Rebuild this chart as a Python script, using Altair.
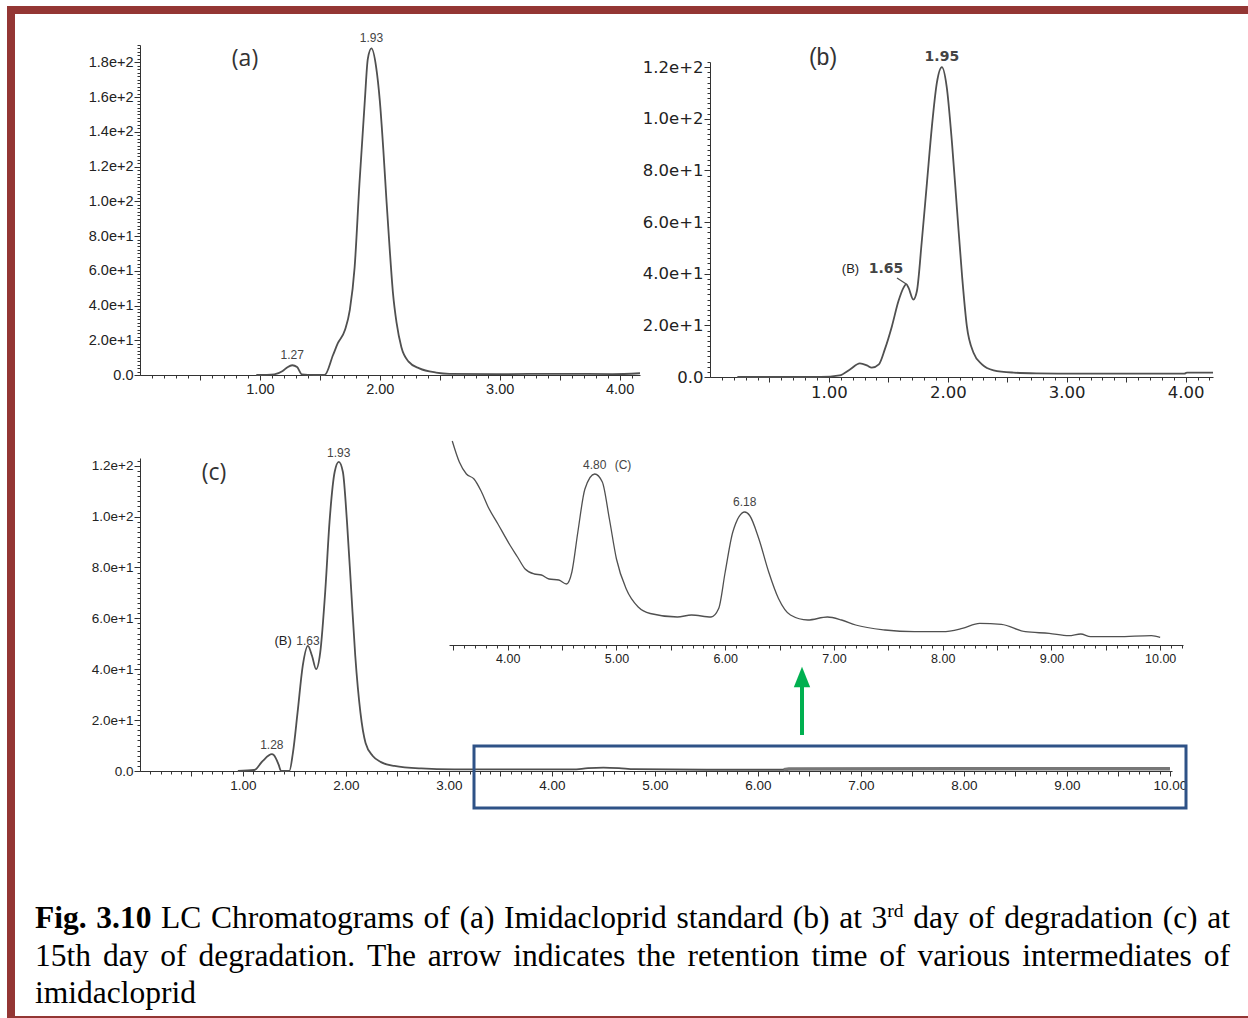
import altair as alt
import pandas as pd

W, H = 1248, 1018

# ---------------------------------------------------------------- traces
# (a) imidacloprid standard: retention time (min) / response
time_a = [0.97, 1.12, 1.19, 1.23, 1.27, 1.31, 1.35, 1.45, 1.54, 1.61, 1.65, 1.71,
          1.75, 1.79, 1.83, 1.875, 1.90, 1.93, 1.97, 2.00, 2.03, 2.056, 2.083, 2.11,
          2.14, 2.18, 2.24, 2.33, 2.47, 2.58, 2.97, 3.53, 3.94, 4.17]
sig_a = [0, 0.4, 2.3, 4.5, 5.6, 4.6, 0.4, 0, 0, 11.5, 18.3, 26,
         37.5, 62, 110, 158, 182, 188, 177, 158, 129, 100, 72, 47,
         30, 16, 7.7, 3.8, 1.4, 0.7, 0.5, 0.7, 0.5, 1.0]

# (b) 3rd day of degradation
time_b = [0.23, 0.93, 1.09, 1.18, 1.26, 1.32, 1.36, 1.42, 1.47, 1.53, 1.585, 1.63,
          1.65, 1.67, 1.71, 1.74, 1.78, 1.824, 1.866, 1.908, 1.95, 1.99, 2.035, 2.077,
          2.12, 2.16, 2.216, 2.287, 2.385, 2.553, 2.75, 3.0, 3.5, 3.99, 4.01, 4.23]
sig_b = [0, 0, 0.6, 3, 5.3, 4.5, 3.6, 4.9, 10.7, 19.7, 29.4, 34.8,
         36, 34.5, 30, 33.3, 52, 75, 97, 114, 120, 112.6, 90.7, 65,
         39, 19.7, 9.4, 4.9, 2.6, 1.7, 1.4, 1.3, 1.3, 1.3, 1.7, 1.7]

# (c) 15th day of degradation
time_c = [0.95, 1.11, 1.19, 1.28, 1.30, 1.345, 1.37, 1.45, 1.485, 1.53, 1.58, 1.63,
          1.67, 1.71, 1.75, 1.80, 1.84, 1.89, 1.93, 1.97, 2.01, 2.05, 2.09, 2.14,
          2.19, 2.26, 2.34, 2.47, 2.73, 3.05, 3.6, 4.2, 4.35, 4.5, 4.65, 4.8,
          5.5, 6.25, 6.3, 8.0, 10.0]
sig_c = [0, 0.4, 3.9, 6.6, 6.2, 2.6, 0, 0, 7.2, 23, 41.3, 49.2,
         45.3, 40, 46.6, 71.5, 97.8, 117.5, 121.5, 117.5, 97.8, 71.5, 45.3, 23,
         11, 5.9, 3.5, 2, 1, 0.65, 0.6, 0.6, 1.1, 1.3, 1.1, 0.7,
         0.5, 0.5, 0.8, 0.9, 0.9]

# enlarged baseline of (c), 3.5-10 min (relative response)
time_z = [3.49, 3.555, 3.62, 3.69, 3.755, 3.82, 3.91, 4.02, 4.09, 4.16, 4.245, 4.31,
          4.38, 4.47, 4.54, 4.59, 4.645, 4.71, 4.80, 4.87, 4.935, 5.00, 5.09, 5.20,
          5.31, 5.56, 5.69, 5.87, 5.94, 6.00, 6.07, 6.18, 6.225, 6.31, 6.40, 6.49,
          6.60, 6.76, 6.94, 7.07, 7.20, 7.47, 7.74, 8.00, 8.18, 8.34, 8.54, 8.76,
          8.98, 9.16, 9.27, 9.36, 9.61, 9.92, 10.0]
sig_z = [204, 183, 171, 166, 154, 138, 121, 100, 88, 76, 71, 70,
         66, 65, 61, 73, 113, 156, 171, 163, 126, 86, 56, 38,
         31.5, 28, 30, 28, 36.5, 73, 113, 133, 129.5, 106, 73, 46.5,
         30, 25, 28, 25, 20, 15, 13.3, 13.3, 16.6, 21.6, 20.6, 13.3,
         11.6, 9.3, 11, 8.3, 8.3, 9.3, 7.6]

# labelled retention times
peaks_a = ["1.27", "1.93"]
peaks_b = ["1.95"]
peaks_c = ["1.28", "1.93"]
peaks_z = ["6.18"]

caption_lines = [
    "Fig. 3.10 LC Chromatograms of (a) Imidacloprid standard (b) at 3^rd day of degradation (c) at",
    "15th day of degradation. The arrow indicates the retention time of various intermediates of",
    "imidacloprid",
]

# ---------------------------------------------------------------- helpers
INK = "#505050"
AX = "#333333"
ONE = pd.DataFrame({"k": [0]})


def frame(t, v):
    return pd.DataFrame({"t": t, "v": v})


def peak_rows(t, v, labels):
    lookup = dict(zip(t, v))
    return pd.DataFrame({"t": [float(s) for s in labels],
                         "v": [lookup[float(s)] for s in labels],
                         "label": labels})


def steps(lo, hi, step):
    n = int(round((hi - lo) / step))
    return [round(lo + i * step, 2) for i in range(n + 1)]


def panel(df, xdom, xrange_, ydom, yrange_, x_at, y_at, xmaj, xmin, ymaj, ymin,
          font, size, color="#222222", show_y=True, line_width=1.8):
    xs = alt.Scale(domain=xdom, range=xrange_, nice=False, zero=False)
    ys = alt.Scale(domain=ydom, range=yrange_, nice=False, zero=False)
    common = dict(title=None, grid=False, domainColor=AX, tickColor=AX,
                  labelFont=font, labelFontSize=size, labelColor=color,
                  labelFlush=False, labelOverlap=False)
    xa = alt.Axis(orient="bottom", offset=x_at - H, values=xmaj, tickSize=5,
                  labelPadding=2,
                  labelExpr="datum.value % 1 == 0 ? format(datum.value, '.2f') : ''",
                  **common)
    xa_minor = alt.Axis(orient="bottom", offset=x_at - H, values=xmin, tickSize=3,
                        labels=False, domain=False, title=None, grid=False,
                        tickColor=AX)
    if show_y:
        ya = alt.Axis(orient="left", offset=-y_at, values=ymaj, tickSize=6,
                      labelPadding=1,
                      labelExpr="datum.value == 0 ? '0.0' : format(datum.value, '.1e')",
                      **common)
        ya_minor = alt.Axis(orient="left", offset=-y_at, values=ymin, tickSize=3,
                            labels=False, domain=False, title=None, grid=False,
                            tickColor=AX)
    else:
        ya = None
        ya_minor = None
    minor = alt.Chart(df).mark_line(opacity=0).encode(
        x=alt.X("t:Q", scale=xs, axis=xa_minor),
        y=alt.Y("v:Q", scale=ys, axis=ya_minor))
    line = alt.Chart(df).mark_line(color=INK, strokeWidth=line_width,
                                   interpolate="monotone").encode(
        x=alt.X("t:Q", scale=xs, axis=xa),
        y=alt.Y("v:Q", scale=ys, axis=ya))
    return xs, ys, [minor, line]


def labels(rows, xs, ys, font, size, dy, color="#444444", **kw):
    return alt.Chart(rows).mark_text(font=font, fontSize=size, color=color,
                                     baseline="bottom", dy=dy, **kw).encode(
        x=alt.X("t:Q", scale=xs, axis=None),
        y=alt.Y("v:Q", scale=ys, axis=None),
        text="label:N")


def fixed_text(txt, x, y, font, size, color="#333333", **kw):
    return alt.Chart(ONE).mark_text(text=txt, font=font, fontSize=size,
                                    color=color, **kw).encode(
        x=alt.value(x), y=alt.value(y))


layers = []

# ---------------------------------------------------------------- panel (a)
df_a = frame(time_a, sig_a)
xs, ys, ls = panel(df_a, [0, 4.17], [140, 640], [0, 190], [375, 45], 375, 140,
                   steps(0.5, 4.0, 0.5), steps(0.1, 4.1, 0.1),
                   steps(0, 180, 20), steps(0, 190, 2),
                   "Liberation Sans", 14.5)
layers += ls
layers.append(labels(peak_rows(time_a, sig_a, peaks_a), xs, ys,
                     "Liberation Sans", 12, -3))
layers.append(fixed_text("(a)", 245, 59, "Open Sans", 23))

# ---------------------------------------------------------------- panel (b)
df_b = frame(time_b, sig_b)
xs, ys, ls = panel(df_b, [0, 4.23], [710, 1213], [0, 122], [377, 62], 377, 710,
                   steps(0.5, 4.0, 0.5), steps(0.1, 4.2, 0.1),
                   steps(0, 120, 20), steps(0, 122, 2),
                   "DejaVu Sans", 16.5)
layers += ls
layers.append(labels(peak_rows(time_b, sig_b, peaks_b), xs, ys,
                     "DejaVu Sans", 14, -3, fontWeight="bold"))
shoulder_b = peak_rows(time_b, sig_b, ["1.65"])
layers.append(labels(shoulder_b, xs, ys, "DejaVu Sans", 14, -8,
                     fontWeight="bold", align="right", dx=-3))
layers.append(labels(shoulder_b.assign(label="(B)"), xs, ys,
                     "Liberation Sans", 13, -8, color="#222222",
                     align="right", dx=-47))
layers.append(alt.Chart(shoulder_b).mark_rule(color=INK, strokeWidth=1.3).encode(
    x=alt.X("t:Q", scale=xs, axis=None), y=alt.Y("v:Q", scale=ys, axis=None),
    x2=alt.value(897), y2=alt.value(278)))
layers.append(fixed_text("(b)", 823, 58, "Liberation Sans", 23))

# ---------------------------------------------------------------- panel (c)
df_c = frame(time_c, sig_c)
xs, ys, ls = panel(df_c, [0, 10.02], [140, 1172], [0, 123], [771, 458], 771, 140,
                   steps(0.5, 10.0, 0.5), steps(0.1, 10.0, 0.1),
                   steps(0, 120, 20), steps(0, 122, 2),
                   "Liberation Sans", 13.5)
layers += ls
layers.append(alt.Chart(df_c).transform_filter("datum.t >= 6.25").mark_line(
    color="#777777", strokeWidth=3.5).encode(
    x=alt.X("t:Q", scale=xs, axis=None), y=alt.Y("v:Q", scale=ys, axis=None)))
layers.append(labels(peak_rows(time_c, sig_c, peaks_c), xs, ys,
                     "Liberation Sans", 12, -2))
shoulder_c = peak_rows(time_c, sig_c, ["1.63"])
layers.append(labels(shoulder_c, xs, ys, "Liberation Sans", 12, 2))
layers.append(labels(shoulder_c.assign(label="(B)"), xs, ys, "Liberation Sans", 13,
                     2, color="#222222", align="right", dx=-16))
layers.append(fixed_text("(c)", 214, 473, "Open Sans", 23))

# ---------------------------------------------------------------- enlarged baseline
df_z = frame(time_z, sig_z)
xs, ys, ls = panel(df_z, [3.46, 10.21], [449, 1183], [0, 215], [645, 430], 645, 449,
                   steps(3.5, 10.0, 0.5), steps(3.5, 10.2, 0.1),
                   None, None, "Liberation Sans", 12.5, show_y=False, line_width=1.3)
layers += ls
layers.append(labels(peak_rows(time_z, sig_z, peaks_z), xs, ys,
                     "Liberation Sans", 12, -3))
c_peak = peak_rows(time_z, sig_z, ["4.80"])
layers.append(labels(c_peak, xs, ys, "Liberation Sans", 12, -2))
layers.append(labels(c_peak.assign(label="(C)"), xs, ys, "Liberation Sans", 12,
                     -2, align="left", dx=20))

# ---------------------------------------------------------------- box and arrow
layers.append(alt.Chart(ONE).mark_rect(fillOpacity=0, stroke="#2e5287",
                                       strokeWidth=3).encode(
    x=alt.value(474), x2=alt.value(1186), y=alt.value(746), y2=alt.value(808)))
layers.append(alt.Chart(ONE).mark_rule(color="#00b050", strokeWidth=4).encode(
    x=alt.value(802), y=alt.value(684), y2=alt.value(735)))
layers.append(alt.Chart(ONE).mark_point(
    shape="M0,-1L0.8,1L-0.8,1Z", filled=True, color="#00b050", opacity=1,
    size=420).encode(x=alt.value(802), y=alt.value(677)))

# ---------------------------------------------------------------- caption
TIMES = {" ": 250, "(": 333, ")": 333, ".": 250, "C": 667, "I": 333, "L": 611,
         "T": 611, "F": 556, "a": 444, "b": 500, "c": 444, "d": 500, "e": 444,
         "f": 333, "g": 500, "h": 500, "i": 278, "l": 278, "m": 778, "n": 500,
         "o": 500, "p": 500, "r": 333, "s": 389, "t": 278, "u": 500, "v": 500,
         "w": 722, "y": 500}
TIMES_BOLD = {"F": 611, "i": 278, "g": 500, ".": 250}
FS = 31.5
SUP = 0.62
LEFT, RIGHT = 35, 1230
BASES = [928, 965.5, 1003]


def width(s, style):
    table = TIMES_BOLD if style == "b" else TIMES
    em = sum(table.get(ch, 500) for ch in s) / 1000
    return em * FS * (SUP if style == "s" else 1)


rows = []
for li, line in enumerate(caption_lines):
    tokens = []
    for wi, word in enumerate(line.split(" ")):
        if li == 0 and wi < 2:
            tokens.append([(word, "b")])
        elif "^" in word:
            base, sup = word.split("^")
            tokens.append([(base, "r"), (sup, "s")])
        else:
            tokens.append([(word, "r")])
    widths = [sum(width(p, s) for p, s in tok) for tok in tokens]
    justify = li < len(caption_lines) - 1
    gap = (RIGHT - LEFT - sum(widths)) / (len(tokens) - 1) if justify else 0.25 * FS
    x = LEFT
    for tok, w in zip(tokens, widths):
        px = x
        for piece, style in tok:
            rows.append({"word": piece, "x": px,
                         "y": BASES[li] - (0.36 * FS if style == "s" else 0),
                         "style": style})
            px += width(piece, style)
        x += w + gap
cap = pd.DataFrame(rows)

for style, weight, size in [("r", "normal", FS), ("b", "bold", FS), ("s", "normal", FS * SUP)]:
    layers.append(alt.Chart(cap[cap["style"] == style]).mark_text(
        font="Liberation Serif", fontSize=size, fontWeight=weight, color="#000000",
        align="left", baseline="alphabetic").encode(
        x=alt.X("x:Q", scale=None, axis=None),
        y=alt.Y("y:Q", scale=None, axis=None),
        text="word:N"))

# ---------------------------------------------------------------- page frame
layers.append(alt.Chart(ONE).mark_rect(fillOpacity=0, stroke="#943634",
                                       strokeWidth=8).encode(
    x=alt.value(11), x2=alt.value(1270), y=alt.value(10), y2=alt.value(1020)))

chart = alt.layer(*layers).resolve_scale(
    x="independent", y="independent").resolve_axis(
    x="independent", y="independent").properties(
    width=W, height=H, autosize=alt.AutoSizeParams(type="none"), padding=0,
    background="white").configure_view(stroke=None)

chart.save("out.html", embed_options={"renderer": "svg", "actions": False})
